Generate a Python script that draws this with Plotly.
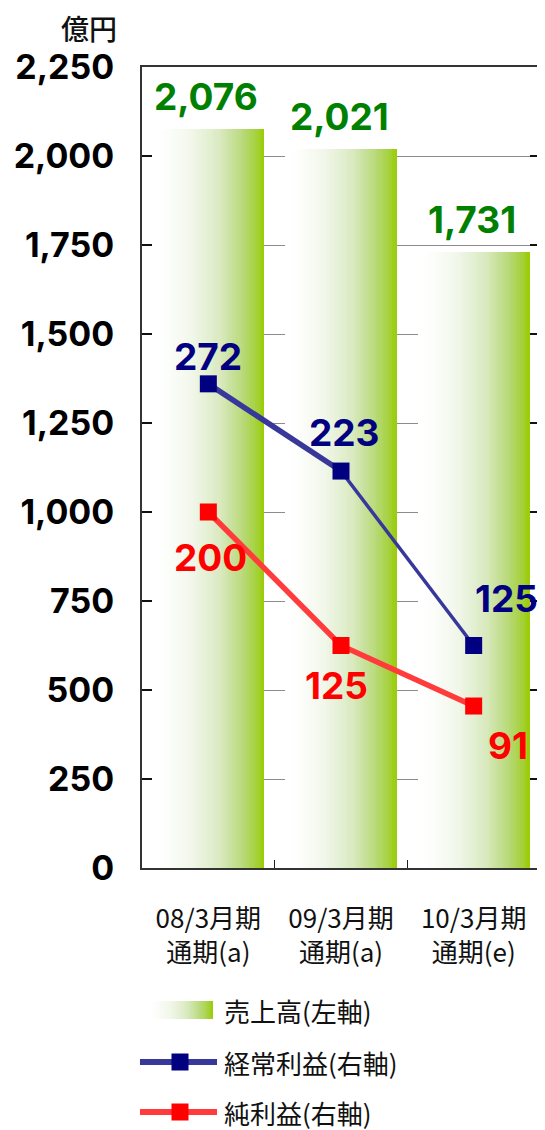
import plotly.graph_objects as go

# ---------------- data ----------------
categories = ["08/3月期<br>通期(a)", "09/3月期<br>通期(a)", "10/3月期<br>通期(e)"]
sales = [2076, 2021, 1731]            # 売上高 (左軸, 億円)
ordinary_profit = [272, 223, 125]     # 経常利益 (右軸)
net_profit = [200, 125, 91]           # 純利益 (右軸)
legend_names = ["売上高(左軸)", "経常利益(右軸)", "純利益(右軸)"]
unit_label = "億円"

# ---------------- style ----------------
OFF = 8                      # default page margin of the html body
W, H = 545 - OFF, 1130 - OFF
L, R, T, B = 134, 5, 59, 262
PW, PH = W - L - R, H - T - B
BAR_W = 0.845
N_SLICES = 48
GREEN_TXT = "#008000"
NAVY = "#000080"
BLUE_LINE = "#38389a"
RED = "#ff0000"
RED_LINE = "#ff3b3b"
NUM_FONT = "Inter"
JP_FONT = "Noto Sans CJK JP"

stops = [(0.0, (255, 255, 255)), (0.12, (253, 254, 252)), (0.35, (241, 247, 234)),
         (0.6, (218, 234, 193)), (0.8, (186, 218, 125)), (0.93, (165, 209, 60)),
         (1.0, (153, 204, 0))]


def grad(t):
    for (t0, c0), (t1, c1) in zip(stops[:-1], stops[1:]):
        if t <= t1:
            f = (t - t0) / (t1 - t0) if t1 > t0 else 0
            c = [round(a + (b - a) * f) for a, b in zip(c0, c1)]
            return "rgb(%d,%d,%d)" % tuple(c)
    return "rgb(%d,%d,%d)" % stops[-1][1]


def px_x(x):
    return (x - OFF - L) / PW


def px_y(y):
    return (H - B - (y - OFF)) / PH


fig = go.Figure()

# gradient bars built from thin slices
step = BAR_W / N_SLICES
for i in range(N_SLICES):
    t = (i + 0.5) / N_SLICES
    wdt = step * (1.6 if i < N_SLICES - 1 else 1.0)
    fig.add_trace(go.Bar(
        x=categories, y=sales, width=[wdt] * 3, offset=[-BAR_W / 2 + i * step] * 3,
        marker=dict(color=grad(t), line=dict(width=0)),
        showlegend=False, hoverinfo="skip"))

# ordinary profit line (two segments, second thinner)
fig.add_trace(go.Scatter(x=categories[0:2], y=ordinary_profit[0:2], yaxis="y2",
                         mode="lines", line=dict(color=BLUE_LINE, width=5.5),
                         showlegend=False))
fig.add_trace(go.Scatter(x=categories[1:3], y=ordinary_profit[1:3], yaxis="y2",
                         mode="lines", line=dict(color=BLUE_LINE, width=3.5),
                         showlegend=False))
fig.add_trace(go.Scatter(x=categories, y=net_profit, yaxis="y2",
                         mode="lines", line=dict(color=RED_LINE, width=5.5),
                         showlegend=False))
fig.add_trace(go.Scatter(x=categories, y=ordinary_profit, yaxis="y2", mode="markers",
                         marker=dict(symbol="square", size=17, color=NAVY),
                         showlegend=False))
fig.add_trace(go.Scatter(x=categories, y=net_profit, yaxis="y2", mode="markers",
                         marker=dict(symbol="square", size=17, color=RED),
                         showlegend=False))

ann = []
# bar value labels
for i, v in enumerate(sales):
    ann.append(dict(x=i, y=v, xref="x", yref="y", text=f"{v:,}", showarrow=False,
                    yanchor="middle", yshift=32, xshift=-2,
                    font=dict(family=NUM_FONT, size=37, color=GREEN_TXT, weight="bold")))
# line value labels
ord_shift = [(0, 27), (3, 39), (33, 47)]
net_shift = [(2, -45), (-5, -40), (34, -39)]
for i, v in enumerate(ordinary_profit):
    ann.append(dict(x=i, y=v, xref="x", yref="y2", text=str(v), showarrow=False,
                    yanchor="middle", xshift=ord_shift[i][0], yshift=ord_shift[i][1],
                    font=dict(family=NUM_FONT, size=37, color=NAVY, weight="bold")))
for i, v in enumerate(net_profit):
    ann.append(dict(x=i, y=v, xref="x", yref="y2", text=str(v), showarrow=False,
                    yanchor="middle", xshift=net_shift[i][0], yshift=net_shift[i][1],
                    font=dict(family=NUM_FONT, size=37, color=RED, weight="bold")))

# unit label
ann.append(dict(x=px_x(89), y=px_y(28), xref="paper", yref="paper", text=unit_label,
                showarrow=False, xanchor="center", yanchor="middle", borderpad=0,
                font=dict(family=JP_FONT, size=28, color="#111111", weight=500)))

# manual legend
shapes = []
leg_y = [1010, 1062, 1112]
NL = 30
x0s, x1s = 147, 213
for i in range(NL):
    a = x0s + (x1s - x0s) * i / NL
    b = x0s + (x1s - x0s) * (i + 1) / NL + 0.6
    shapes.append(dict(type="rect", xref="paper", yref="paper",
                       x0=px_x(a), x1=px_x(min(b, x1s)),
                       y0=px_y(leg_y[0] - 9), y1=px_y(leg_y[0] + 9),
                       line=dict(width=0), fillcolor=grad((i + 0.5) / NL)))
for yy, lc, mc in [(leg_y[1], BLUE_LINE, NAVY), (leg_y[2], RED_LINE, RED)]:
    shapes.append(dict(type="line", xref="paper", yref="paper",
                       x0=px_x(140), x1=px_x(217), y0=px_y(yy), y1=px_y(yy),
                       line=dict(color=lc, width=6)))
    shapes.append(dict(type="rect", xref="paper", yref="paper",
                       x0=px_x(171.5), x1=px_x(188.5), y0=px_y(yy - 8.5), y1=px_y(yy + 8.5),
                       line=dict(width=0), fillcolor=mc))
for name, yy in zip(legend_names, leg_y):
    ann.append(dict(x=px_x(223), y=px_y(yy), xref="paper", yref="paper", text=name,
                    showarrow=False, xanchor="left", yanchor="middle", borderpad=0,
                    font=dict(family=JP_FONT, size=26, color="#111111")))

fig.update_layout(
    width=W, height=H, margin=dict(l=L, r=R, t=T, b=B, autoexpand=False),
    paper_bgcolor="white", plot_bgcolor="white", barmode="overlay", bargap=0,
    showlegend=False, annotations=ann, shapes=shapes,
    xaxis=dict(type="category", showline=True, linecolor="#333333", linewidth=2,
               mirror=True, ticks="inside", tickson="boundaries", ticklen=8,
               tickcolor="#222222", tickwidth=1, showgrid=False,
               tickfont=dict(family=JP_FONT, size=26, color="#111111"),
               ticklabelstandoff=27, range=[-0.5, 2.5]),
    yaxis=dict(range=[0, 2250], dtick=250, tick0=0, tickformat=",", showgrid=True,
               gridcolor="#8c8c8c", gridwidth=1, zeroline=False, showline=True,
               linecolor="#333333", linewidth=2, mirror="ticks", ticks="inside",
               ticklen=10, tickcolor="#111111", tickwidth=1.5,
               tickfont=dict(family=NUM_FONT, size=34, color="#000000", weight="bold"),
               ticklabelstandoff=19),
    yaxis2=dict(range=[0, 450], overlaying="y", side="right", visible=False),
)

fig.write_html("out.html")
